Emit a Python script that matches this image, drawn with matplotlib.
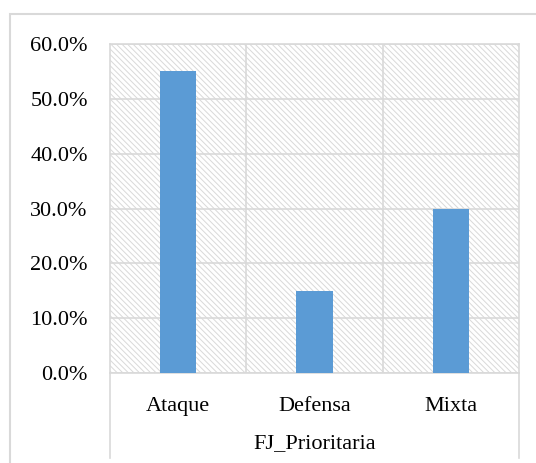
import matplotlib.pyplot as plt
from matplotlib.patches import Rectangle
from matplotlib.lines import Line2D
from matplotlib.ticker import PercentFormatter

categories = ['Ataque', 'Defensa', 'Mixta']
values = [0.55, 0.15, 0.30]
axis_title = 'FJ_Prioritaria'

plt.rcParams['font.family'] = ['Liberation Serif', 'DejaVu Serif']
plt.rcParams['hatch.linewidth'] = 0.7

W, H = 536, 463
fig = plt.figure(figsize=(W / 100, H / 100), dpi=100)

def fx(px):
    return px / W

def fy(py):
    return 1 - py / H

grid_col = '#d9d9d9'

# outer chart border (cropped at right / bottom)
fig.patches.append(Rectangle((fx(10), fy(470)), fx(540) - fx(10), fy(14) - fy(470),
                             transform=fig.transFigure, fill=False,
                             edgecolor=grid_col, linewidth=1.5, zorder=0))

ax = fig.add_axes([fx(110), fy(373), fx(519) - fx(110), fy(44) - fy(373)])

# light diagonal hatch background of the plot area
ax.add_patch(Rectangle((0, 0), 1, 1, transform=ax.transAxes, facecolor='none',
                       edgecolor='#d9d9d9', linewidth=0, hatch='\\' * 6, zorder=0))

x = range(len(categories))
ax.bar(x, values, width=0.265, color='#5b9bd5', zorder=3)

ax.set_xlim(-0.5, len(categories) - 0.5)
ax.set_ylim(0, 0.6)
ax.set_yticks([i / 10 for i in range(7)])
ax.yaxis.set_major_formatter(PercentFormatter(1.0, decimals=1))
ax.set_xticks(list(x))
ax.set_xticklabels(categories)

ax.grid(axis='y', color=grid_col, linewidth=1.2, zorder=1)
for b in [0.5, 1.5]:
    ax.axvline(b, color=grid_col, linewidth=1.2, zorder=1)

for s in ax.spines.values():
    s.set_color(grid_col)
    s.set_linewidth(1.2)

ax.tick_params(length=0, labelsize=16, colors='black')
ax.tick_params(axis='y', pad=16)
ax.tick_params(axis='x', pad=17)
ax.set_xlabel(axis_title, fontsize=16, labelpad=13)

# category axis dividers extending below the plot area
for px in [110, 519]:
    fig.lines.append(Line2D([fx(px), fx(px)], [fy(373), fy(458)],
                            transform=fig.transFigure, color=grid_col, linewidth=1.2))

fig.savefig('out.png', dpi=100)
